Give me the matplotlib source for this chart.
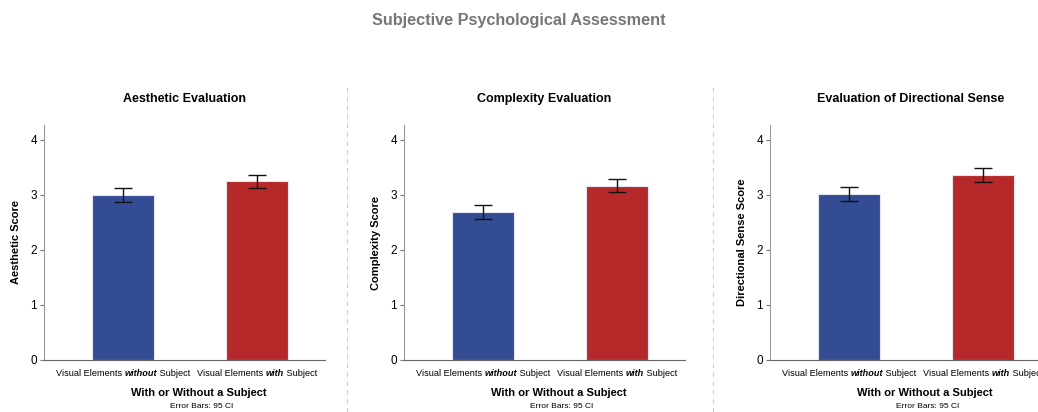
import numpy as np
import matplotlib.pyplot as plt
from matplotlib.lines import Line2D
from matplotlib import transforms

plt.rcParams["font.family"] = ["Liberation Sans", "DejaVu Sans"]

# data
groups = [("Visual Elements ", "without", " Subject"),
          ("Visual Elements ", "with", " Subject")]
panel_titles = ["Aesthetic Evaluation", "Complexity Evaluation",
                "Evaluation of Directional Sense"]
ylabels = ["Aesthetic Score", "Complexity Score", "Directional Sense Score"]
means = [[3.00, 3.25], [2.69, 3.17], [3.01, 3.36]]
ci95 = [[0.13, 0.12], [0.125, 0.125], [0.125, 0.12]]
yticks = [0, 1, 2, 3, 4]

colors = ["#344c94", "#b5292b"]
W, H = 1038, 412
lefts = [44, 404, 770]
ax_bottom, ax_h, ax_w = 360, 235, 281  # pixels


def ay(px):
    # pixel row (from top) -> axes fraction
    return (ax_bottom - px) / ax_h


fig = plt.figure(figsize=(W / 100, H / 100), dpi=100)
renderer = fig.canvas.get_renderer()
fig.text(0.5, 1 - 21 / H, "Subjective Psychological Assessment",
         ha="center", va="center", fontsize=11.7, fontweight="bold", color="#777777")

tick_fs = 6.6
for i in range(3):
    ax = fig.add_axes([lefts[i] / W, (H - ax_bottom) / H, ax_w / W, ax_h / H])
    x = np.arange(len(groups))
    ax.bar(x, means[i], width=0.46, color=colors, edgecolor="#e6e6ee", linewidth=0.8, zorder=2)
    ax.errorbar(x, means[i], yerr=ci95[i], fmt="none", ecolor="#111111",
                elinewidth=1.0, capsize=6.5, capthick=1.0, zorder=3)
    ax.set_xlim(-0.59, 1.51)
    ax.set_ylim(0, 4.27)
    ax.set_yticks(yticks)
    ax.set_xticks([])
    ax.tick_params(axis="y", length=3, width=0.8, color="#777777", labelsize=8.5, pad=2)
    for s in ["top", "right"]:
        ax.spines[s].set_visible(False)
    ax.spines["left"].set_color("#999999")
    ax.spines["bottom"].set_color("#666666")
    ax.set_title(panel_titles[i], fontsize=9, fontweight="bold", pad=16.5)
    ax.set_ylabel(ylabels[i], fontsize=8, fontweight="bold", labelpad=7)

    # category labels with a bold italic middle word
    base = transforms.blended_transform_factory(ax.transData, ax.transAxes)
    for xi, parts in zip(x, groups):
        styles = [dict(), dict(fontweight="bold", fontstyle="italic"), dict()]
        widths = []
        for p, st in zip(parts, styles):
            t = fig.text(0, 0, p.replace(" ", "\u00a0"), fontsize=tick_fs, **st)
            widths.append(t.get_window_extent(renderer).width)
            t.remove()
        start = -sum(widths) / 2
        for p, st, w in zip(parts, styles, widths):
            tr = transforms.offset_copy(base, fig=fig, x=start * 72 / 100, units="points")
            ax.text(xi, ay(373), p.replace(" ", "\u00a0"), transform=tr,
                    ha="left", va="center", fontsize=tick_fs, clip_on=False, **st)
            start += w

    cx = 155 / ax_w
    ax.text(cx, ay(393), "With or Without a Subject", transform=ax.transAxes,
            ha="center", va="center", fontsize=8.0, fontweight="bold")
    ax.text(cx + 0.01, ay(407), "Error Bars: 95 CI", transform=ax.transAxes,
            ha="center", va="center", fontsize=6.0)

for xs in [347, 713]:
    fig.add_artist(Line2D([xs / W, xs / W], [0, 1 - 85 / H], color="#cccccc",
                          lw=0.8, ls=(0, (4, 4))))

fig.savefig("out.png", dpi=100)
